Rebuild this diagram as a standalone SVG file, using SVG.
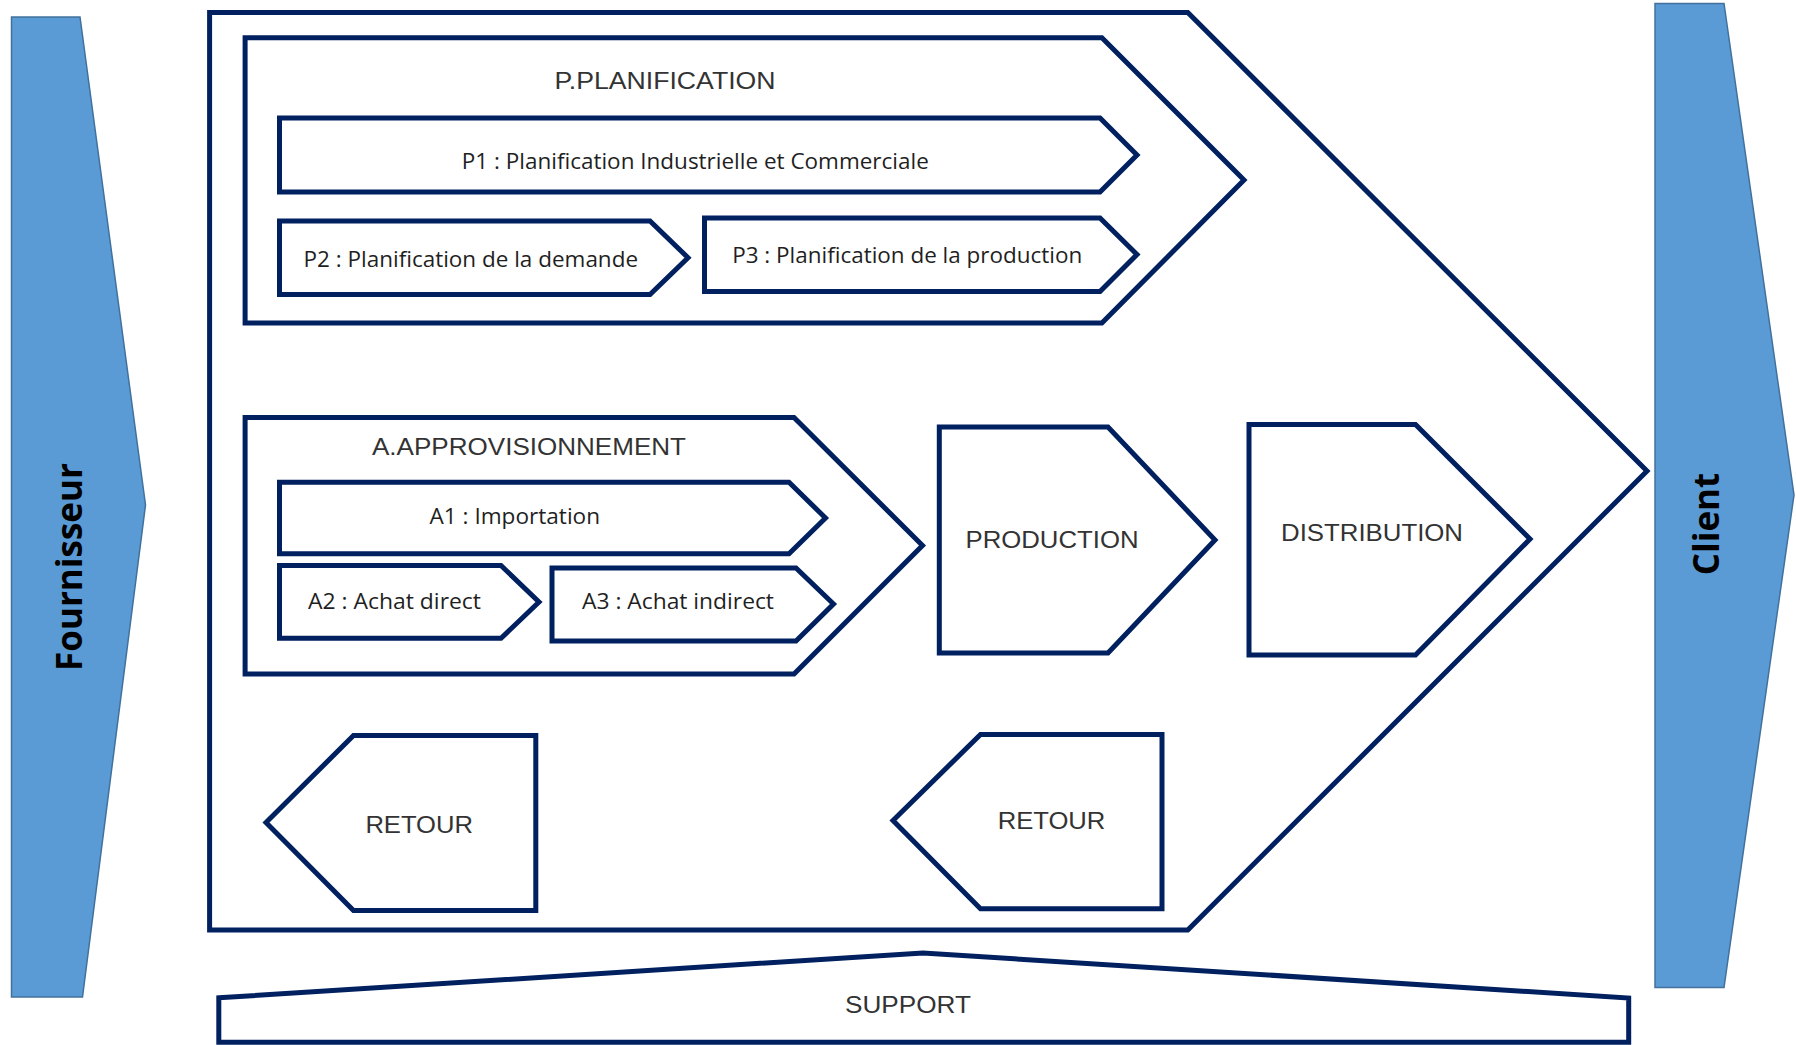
<svg xmlns="http://www.w3.org/2000/svg" width="1796" height="1045" viewBox="0 0 1796 1045">
  <style>
    .frame { fill: #ffffff; stroke: #002060; stroke-width: 5; stroke-linejoin: miter; }
    .side { fill: #5B9BD5; stroke: #41719C; stroke-width: 1.5; }
    .side-label { font-family: "Open Sans", "Liberation Sans", sans-serif; font-weight: 700; font-size: 35px; fill: #000000; text-anchor: middle; }
    .head { font-family: "Liberation Sans", Arial, sans-serif; font-size: 24px; fill: #333333; text-anchor: middle; }
    .item { font-family: "Open Sans", "Liberation Sans", sans-serif; font-size: 21px; fill: #1f1f1f; text-anchor: middle; }
  </style>

  <rect width="1796" height="1045" fill="#ffffff"/>

  <!-- supplier band on the left -->
  <g id="fournisseur">
    <polygon class="side" points="11.5,17 80,17 145.5,505 82.5,997 11.5,997"/>
    <text class="side-label" transform="translate(82,567) rotate(-90)">Fournisseur</text>
  </g>

  <!-- customer band on the right -->
  <g id="client">
    <polygon class="side" points="1655,3.5 1724,3.5 1794,495 1724,987.5 1655,987.5"/>
    <text class="side-label" transform="translate(1719,524) rotate(-90)">Client</text>
  </g>

  <!-- main process chevron -->
  <g id="processus">
    <polygon class="frame" points="209.6,12.6 1187.8,12.6 1647,471 1187.8,930 209.6,930"/>
  </g>

  <!-- planning block -->
  <g id="planification">
    <polygon class="frame" points="245.1,37.8 1101.9,37.8 1244,180 1101.9,323 245.1,323"/>
    <text class="head" x="665" y="89" textLength="221" lengthAdjust="spacingAndGlyphs">P.PLANIFICATION</text>
  </g>
  <g id="p1">
    <polygon class="frame" points="279.5,118 1100,118 1137,155 1100,192 279.5,192"/>
    <text class="item" x="695.3" y="168.5" textLength="467" lengthAdjust="spacingAndGlyphs">P1 : Planification Industrielle et Commerciale</text>
  </g>
  <g id="p2">
    <polygon class="frame" points="279.5,221 650,221 688,257.7 650,294.5 279.5,294.5"/>
    <text class="item" x="470.8" y="267" textLength="334.5" lengthAdjust="spacingAndGlyphs">P2 : Planification de la demande</text>
  </g>
  <g id="p3">
    <polygon class="frame" points="704.5,218 1100,218 1137,254.5 1100,291.5 704.5,291.5"/>
    <text class="item" x="907.2" y="263" textLength="350" lengthAdjust="spacingAndGlyphs">P3 : Planification de la production</text>
  </g>

  <!-- sourcing block -->
  <g id="approvisionnement">
    <polygon class="frame" points="245.1,417.5 794,417.5 922.5,545.5 794,674 245.1,674"/>
    <text class="head" x="529" y="455" textLength="314" lengthAdjust="spacingAndGlyphs">A.APPROVISIONNEMENT</text>
  </g>
  <g id="a1">
    <polygon class="frame" points="279.5,482.3 789,482.3 825.5,518 789,553.7 279.5,553.7"/>
    <text class="item" x="514.8" y="524" textLength="170.5" lengthAdjust="spacingAndGlyphs">A1 : Importation</text>
  </g>
  <g id="a2">
    <polygon class="frame" points="279.5,565.5 501,565.5 539,602 501,638.3 279.5,638.3"/>
    <text class="item" x="394.5" y="609.3" textLength="173" lengthAdjust="spacingAndGlyphs">A2 : Achat direct</text>
  </g>
  <g id="a3">
    <polygon class="frame" points="552,568 796,568 833.5,604 796,641 552,641"/>
    <text class="item" x="678" y="609.3" textLength="192" lengthAdjust="spacingAndGlyphs">A3 : Achat indirect</text>
  </g>

  <!-- production step -->
  <g id="production">
    <polygon class="frame" points="939.3,427 1108,427 1215,540 1108,653 939.3,653"/>
    <text class="head" x="1052" y="548" font-size="25" textLength="173" lengthAdjust="spacingAndGlyphs">PRODUCTION</text>
  </g>

  <!-- distribution step -->
  <g id="distribution">
    <polygon class="frame" points="1249,424.5 1415.5,424.5 1530,539 1415.5,655 1249,655"/>
    <text class="head" x="1372" y="541" font-size="25" textLength="182" lengthAdjust="spacingAndGlyphs">DISTRIBUTION</text>
  </g>

  <!-- return steps -->
  <g id="retour-amont">
    <polygon class="frame" points="266,822.5 353.5,735.5 535.8,735.5 535.8,910.5 353.5,910.5"/>
    <text class="head" x="419.2" y="833" font-size="25" textLength="107.6" lengthAdjust="spacingAndGlyphs">RETOUR</text>
  </g>
  <g id="retour-aval">
    <polygon class="frame" points="893,820.5 980.5,734.5 1162,734.5 1162,908.7 980.5,908.7"/>
    <text class="head" x="1051.5" y="828.5" font-size="25" textLength="107.7" lengthAdjust="spacingAndGlyphs">RETOUR</text>
  </g>

  <!-- support base -->
  <g id="support">
    <polygon class="frame" points="218.8,997.8 923,953 1628.7,998 1628.7,1042.3 218.8,1042.3"/>
    <text class="head" x="908" y="1013" font-size="25" textLength="126" lengthAdjust="spacingAndGlyphs">SUPPORT</text>
  </g>
</svg>
